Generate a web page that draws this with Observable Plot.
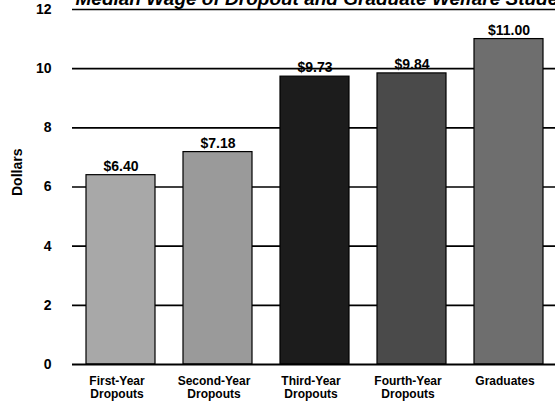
<!DOCTYPE html>
<html>
<head>
<meta charset="utf-8">
<script src="https://cdn.jsdelivr.net/npm/d3@7"></script>
<script src="https://cdn.jsdelivr.net/npm/@observablehq/plot@0.6"></script>
<style>
  html, body { margin: 0; padding: 0; background: #fff; }
</style>
</head>
<body>
<div id="chart"></div>
<script>
const title = "Median Wage of Dropout and Graduate Welfare Students";
const categories = ["First-Year\nDropouts", "Second-Year\nDropouts", "Third-Year\nDropouts", "Fourth-Year\nDropouts", "Graduates"];
const wages = [6.40, 7.18, 9.73, 9.84, 11.00];
const wageLabels = ["$6.40", "$7.18", "$9.73", "$9.84", "$11.00"];
const yTicks = [0, 2, 4, 6, 8, 10, 12];

const data = categories.map((c, i) => ({cat: c, wage: wages[i], label: wageLabels[i]}));

const chart = Plot.plot({
  width: 555,
  height: 404,
  marginLeft: 72,
  marginRight: 0,
  marginTop: 9,
  marginBottom: 40,
  style: {fontFamily: "'Liberation Sans', Arial, sans-serif", fontWeight: "bold", background: "#fff", color: "#000"},
  x: {domain: categories, range: [72, 557], paddingInner: 0.29, paddingOuter: 0.145, label: null},
  y: {domain: [0, 12], label: null},
  color: {domain: categories, range: ["#a8a8a8", "#9a9a9a", "#1c1c1c", "#4a4a4a", "#6e6e6e"]},
  marks: [
    Plot.ruleY(yTicks.filter(d => d > 0), {stroke: "#000", strokeWidth: 1.6}),
    Plot.barY(data, {x: "cat", y: "wage", fill: "cat", stroke: "#000", strokeWidth: 1.2}),
    Plot.ruleY([0], {stroke: "#000", strokeWidth: 2}),
    Plot.ruleX([0], {x: () => 0, frameAnchor: "left", stroke: "#000", strokeWidth: 1.8}),
    Plot.text(data, {x: "cat", y: "wage", text: "label", dy: -9, fontSize: 14, fill: "#000"}),
    Plot.axisY({ticks: yTicks, tickSize: 0, tickPadding: 21, fontSize: 14, label: null}),
    Plot.axisX({tickSize: 0, tickPadding: 12, fontSize: 12, lineHeight: 1.05, dx: -4, label: null}),
    Plot.text(["Dollars"], {frameAnchor: "left", dx: -55, dy: 9, rotate: -90, fontSize: 14, fill: "#000"}),
    Plot.text([title], {frameAnchor: "top-left", dx: 3, dy: -5, textAnchor: "start", lineAnchor: "bottom", fontSize: 19, fontStyle: "italic", fill: "#000"})
  ]
});
document.getElementById("chart").appendChild(chart);
</script>
</body>
</html>
